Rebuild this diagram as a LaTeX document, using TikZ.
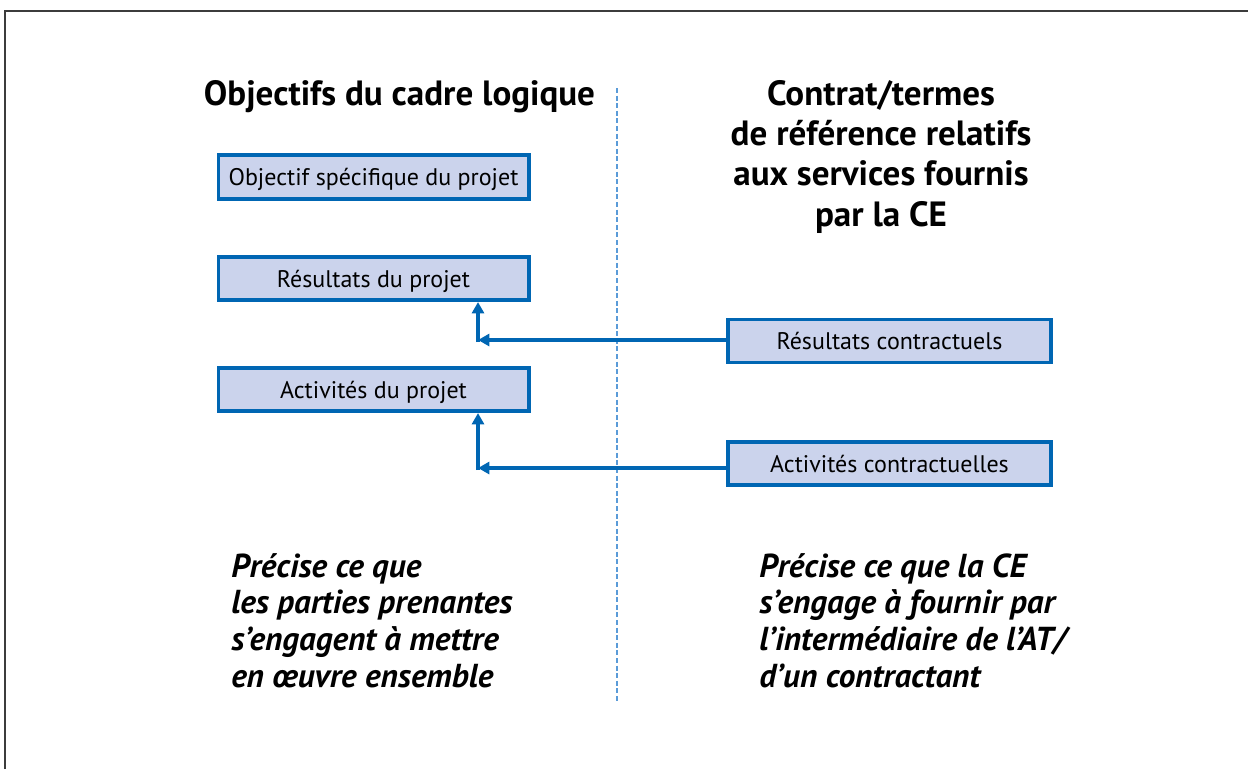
\documentclass[tikz,border=0pt]{standalone}
\usepackage{fontspec}
\setmainfont{PT Sans}
\usetikzlibrary{arrows.meta}
\definecolor{boxblue}{HTML}{0066B3}
\definecolor{boxfill}{HTML}{CBD3EC}
\definecolor{divblue}{HTML}{5A9BD8}
\definecolor{framegray}{HTML}{3C3C3C}
\tikzset{
  goalbox/.style={draw=boxblue, fill=boxfill, line width=2.7pt, rectangle,
    minimum width=232.8pt, minimum height=32.6pt, inner sep=0pt,
    text height=13pt, text depth=0pt,
    font=\fontsize{18}{21}\selectfont},
  contbox/.style={goalbox, minimum width=242.6pt, minimum height=32pt},
  link/.style={draw=boxblue, line width=3pt,
    -{Triangle[length=8.5pt,width=9pt]}},
  title/.style={font=\fontsize{26.3}{30.2}\selectfont\bfseries, inner sep=0pt, anchor=base},
  note/.style={font=\fontsize{24.9}{27.5}\selectfont\bfseries\itshape, inner sep=0pt, anchor=base west}
}
\begin{document}
\begin{tikzpicture}[x=0.75pt,y=-0.75pt]
\useasboundingbox (0,0) rectangle (1248,769);
% frame
\draw[framegray, line width=1.1pt] (5,769) -- (5,11) -- (1248,11);
% divider
\draw[divblue, line width=0.9pt, dash pattern=on 3.8pt off 1.9pt] (617,88) -- (617,701);
% titles
\node[title] (tl) at (399.5,105) {Objectifs du cadre logique};
\node[title] (tr1) at (881,105) {Contrat/termes};
\node[title] (tr2) at (881,145.3) {de référence relatifs};
\node[title] (tr3) at (881,185.6) {aux services fournis};
\node[title] (tr4) at (881,226) {par la CE};
% left boxes
\node[goalbox] (os) at (373.5,177) {Objectif spécifique du projet};
\node[goalbox] (rp) at (373.5,278.5) {Résultats du projet};
\node[goalbox] (ap) at (373.5,389.5) {Activités du projet};
% right boxes
\node[contbox] (rc) at (889.5,341) {Résultats contractuels};
\node[contbox] (ac) at (889.5,463.5) {Activités contractuelles};
% connectors
\coordinate (j1) at (478,340);
\coordinate (j2) at (478,468);
\draw[link] (rc.west |- j1) -- (j1);
\draw[link] ([yshift=-1.5pt]j1) -- (j1 |- rp.south);
\draw[link] (ac.west |- j2) -- (j2);
\draw[link] ([yshift=-1.5pt]j2) -- (j2 |- ap.south);
% notes
\node[note] (nl1) at (231,577) {Précise ce que};
\node[note] (nl2) at (231,613.7) {les parties prenantes};
\node[note] (nl3) at (231,650.3) {s’engagent à mettre};
\node[note] (nl4) at (231,687) {en œuvre ensemble};
\node[note] (nr1) at (759,577) {Précise ce que la CE};
\node[note] (nr2) at (759,613.7) {s’engage à fournir par};
\node[note] (nr3) at (759,650.3) {l’intermédiaire de l’AT/};
\node[note] (nr4) at (759,687) {d’un contractant};
\end{tikzpicture}
\end{document}
